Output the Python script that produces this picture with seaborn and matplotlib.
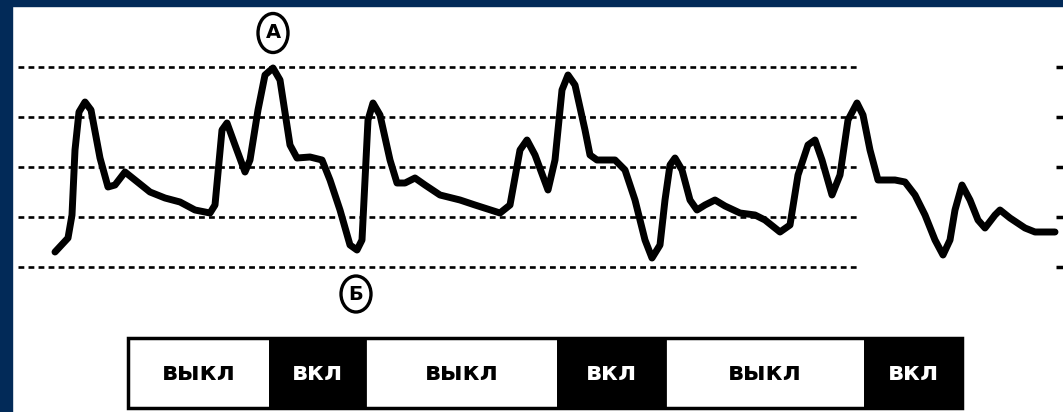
import numpy as np
import pandas as pd
import seaborn as sns
import matplotlib
matplotlib.use("Agg")
import matplotlib.pyplot as plt
from matplotlib.patches import Rectangle, Ellipse

# ---- data ----
t = [55, 68, 72, 75, 79, 85, 91, 100, 108, 115, 125, 135, 150, 165, 180, 195, 210,
     215, 222, 227, 235, 245, 250, 258, 265, 273, 280, 290, 297, 310, 322, 330, 340,
     350, 357, 362, 365, 368, 373, 380, 390, 397, 405, 415, 425, 440, 460, 475, 500,
     510, 520, 527, 535, 548, 555, 562, 568, 575, 585, 590, 597, 615, 625, 635, 645,
     652, 660, 665, 670, 675, 682, 690, 697, 705, 715, 725, 740, 755, 765, 780, 790,
     798, 808, 815, 822, 832, 840, 848, 857, 863, 870, 878, 895, 905, 915, 925, 935,
     943, 950, 955, 962, 970, 978, 985, 995, 1000, 1010, 1025, 1035, 1055]
signal = [0.30, 0.58, 1.04, 2.34, 3.10, 3.30, 3.14, 2.18, 1.60, 1.64, 1.90, 1.74, 1.50,
          1.38, 1.30, 1.14, 1.08, 1.24, 2.74, 2.88, 2.44, 1.90, 2.14, 3.14, 3.84, 3.98,
          3.74, 2.44, 2.18, 2.20, 2.14, 1.74, 1.14, 0.44, 0.34, 0.54, 1.74, 2.94, 3.28,
          3.04, 2.14, 1.68, 1.68, 1.78, 1.64, 1.44, 1.34, 1.24, 1.08, 1.24, 2.34, 2.54,
          2.24, 1.54, 2.14, 3.54, 3.84, 3.64, 2.74, 2.24, 2.14, 2.14, 1.94, 1.34, 0.54,
          0.18, 0.44, 1.34, 2.04, 2.18, 1.94, 1.34, 1.14, 1.24, 1.34, 1.22, 1.08, 1.04,
          0.94, 0.70, 0.84, 1.84, 2.44, 2.54, 2.14, 1.44, 1.84, 2.94, 3.28, 3.04, 2.34,
          1.74, 1.74, 1.70, 1.44, 1.04, 0.54, 0.24, 0.54, 1.14, 1.64, 1.34, 0.94, 0.78,
          1.04, 1.14, 0.98, 0.78, 0.70, 0.70]
grid_levels = [0, 1, 2, 3, 4]
state_edges = [128, 270, 365, 558, 665, 865, 962]
state_on = [False, True, False, True, False, True]
state_labels = ["выкл", "вкл", "выкл", "вкл", "выкл", "вкл"]
point_labels = ["A", "Б"]
point_t = [273, 356]
point_level = [4.68, -0.54]

# ---- figure ----
sns.set_theme(style="white")
plt.rcParams["font.family"] = ["DejaVu Sans"]
W, H = 1063, 412
fig = plt.figure(figsize=(W / 100, H / 100), dpi=100)
fig.patch.set_facecolor("white")
ax = fig.add_axes([0, 0, 1, 1])
ax.set_xlim(0, W)
ax.set_ylim(-2.90, 5.34)
ax.axis("off")

# dotted reference lines
ax.hlines(grid_levels, 18, 857, colors="black", linestyles=(0, (2.2, 1.6)), lw=1.9, zorder=1)
ax.hlines(grid_levels, 1056, 1063, colors="black", lw=2.5, zorder=1)

# waveform
df = pd.DataFrame({"t": t, "signal": signal})
sns.lineplot(data=df, x="t", y="signal", ax=ax, color="black", lw=5.0, sort=False,
             solid_joinstyle="round", solid_capstyle="round", zorder=3)
ax.set_xlim(0, W)
ax.set_ylim(-2.90, 5.34)

# circled point labels
for lab, px, py, hh in zip(point_labels, point_t, point_level, [0.78, 0.72]):
    ax.add_patch(Ellipse((px, py), 30, hh, facecolor="white", edgecolor="black", lw=2.4, zorder=4))
    ax.text(px, py, lab, ha="center", va="center", fontsize=14, fontweight="bold",
            color="black", zorder=5)

# on/off state bar
bar_bottom, bar_h = -2.82, 1.40
for i in range(len(state_on)):
    x0, x1 = state_edges[i], state_edges[i + 1]
    fc = "black" if state_on[i] else "white"
    ax.broken_barh([(x0, x1 - x0)], (bar_bottom, bar_h), facecolors=fc,
                   edgecolor="black", lw=2, zorder=3)
    ax.text((x0 + x1) / 2, bar_bottom + bar_h / 2, state_labels[i], ha="center", va="center",
            fontsize=18, fontweight="bold", color="white" if state_on[i] else "black", zorder=4)
ax.add_patch(Rectangle((state_edges[0], bar_bottom), state_edges[-1] - state_edges[0], bar_h,
                       fill=False, edgecolor="black", lw=2.5, zorder=4))

# navy frame
navy = "#022a58"
fig.patches.append(Rectangle((0, 0), 12 / W, 1, transform=fig.transFigure, color=navy, zorder=10))
fig.patches.append(Rectangle((0, 1 - 6 / H), 1, 6 / H, transform=fig.transFigure, color=navy, zorder=10))

fig.savefig("out.png", dpi=100)
